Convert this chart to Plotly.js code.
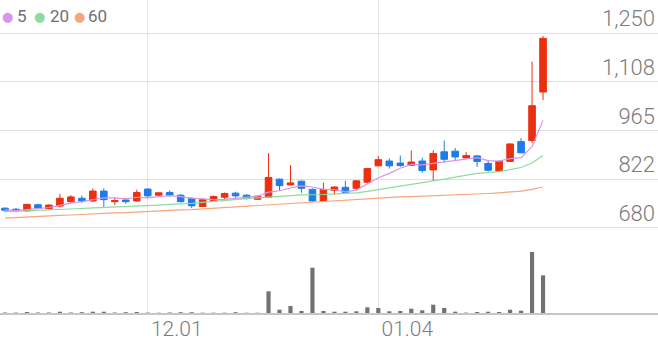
<!DOCTYPE html>
<html>
<head>
<meta charset="utf-8">
<script src="https://cdn.plot.ly/plotly-3.0.1.min.js"></script>
<style>
html,body{margin:0;padding:0;background:#fff;}
#chart{width:658px;height:342px;}
</style>
</head>
<body>
<div id="chart"></div>
<script>
// Trading days (2020.11.12 – 2021.01.25)
const dates = ['11.12','11.13','11.16','11.17','11.18','11.19','11.20','11.23','11.24','11.25',
  '11.26','11.27','11.30','12.01','12.02','12.03','12.04','12.07','12.08','12.09',
  '12.10','12.11','12.14','12.15','12.16','12.17','12.18','12.21','12.22','12.23',
  '12.24','12.28','12.29','12.30','01.04','01.05','01.06','01.07','01.08','01.11',
  '01.12','01.13','01.14','01.15','01.18','01.19','01.20','01.21','01.22','01.25'];

const openP  = [738,735,730,748,736,744,757,767,759,788, 757,762,759,794,776,784,776,767,743,759,
  770,782,776,764,770,823,806,817,793,759, 790,799,796,814,862,876,870,863,876,850,
  903,905,885,891,869,847,875,933,936,1078];
const highP  = [740,738,751,751,749,780,776,775,796,796, 770,767,792,796,784,790,779,769,768,775,
  784,786,779,775,899,825,864,819,796,813, 801,818,820,856,890,884,892,907,886,908,
  936,914,902,893,878,878,928,943,1167,1242];
const lowP   = [728,726,728,735,734,740,753,753,755,738, 747,751,757,767,772,771,755,738,741,757,
  763,768,763,762,768,789,806,783,757,757, 777,779,791,811,860,854,859,862,842,818,
  871,879,884,859,845,844,873,899,928,1055];
const closeP = [732,730,749,738,747,767,771,759,788,763, 760,757,784,774,783,776,757,745,763,772,
  781,774,767,773,828,804,812,796,759,793, 800,784,818,854,880,862,863,873,848,898,
  881,888,892,875,849,875,926,900,1038,1235];

const ma5  = [733,731,734,737,740,746,753,757,763,768, 768,765,770,768,772,775,772,767,765,763,
  764,767,771,773,785,789,797,803,800,793, 792,786,791,810,827,840,855,866,865,869,
  873,879,882,886,877,876,883,886,918,995];
const ma20 = [728,729,730,731,733,734,736,737,739,740, 741,743,744,746,747,749,750,752,755,758,
  762,765,766,768,771,773,775,777,777,778, 780,781,783,787,792,796,801,807,812,818,
  823,829,835,840,842,845,851,857,870,892];
const ma60 = [709,711,712,714,715,717,718,720,721,722, 724,725,727,728,730,731,733,734,736,738,
  740,741,744,746,747,750,752,754,756,759, 761,763,765,767,769,770,771,772,773,774,
  775,777,778,780,781,783,785,788,793,800];

const volume = [50000,40000,100000,50000,50000,130000,50000,80000,130000,130000,
  50000,80000,100000,40000,30000,50000,80000,80000,30000,30000,
  30000,80000,30000,30000,2170000,330000,700000,200000,4530000,200000,
  130000,130000,170000,570000,500000,170000,200000,430000,270000,830000,
  500000,130000,40000,100000,130000,100000,330000,230000,6100000,3770000];

const priceTickVals = [680, 822.5, 965, 1107.5, 1250];
const priceTickText = ['680', '822', '965', '1,108', '1,250'];
const dateTickVals = ['12.01', '01.04'];
const dateTickText = ['12.01', '01.04'];

const maNames = ['5', '20', '60'];
const maColors = ['#d994ec', '#8edb9e', '#f6a67c'];

const RED = '#ea300f', BLUE = '#1f7be6';

// price axis range, and a label axis whose range is offset so labels sit above gridlines
const priceRange = [656.5, 1347.5];
const labelOffset = 42.5; // ≈14.5 px in price units
const labelRange = [priceRange[0] - labelOffset, priceRange[1] - labelOffset];

const traces = [
  {type:'scatter', mode:'lines', x:dates, y:ma60, line:{color:maColors[2], width:1.2}, name:'60', showlegend:false, hoverinfo:'skip'},
  {type:'scatter', mode:'lines', x:dates, y:ma20, line:{color:maColors[1], width:1.2}, name:'20', showlegend:false, hoverinfo:'skip'},
  {type:'scatter', mode:'lines', x:dates, y:ma5,  line:{color:maColors[0], width:1.2}, name:'5',  showlegend:false, hoverinfo:'skip'},
  {type:'candlestick', x:dates, open:openP, high:highP, low:lowP, close:closeP,
    increasing:{line:{color:RED, width:1}, fillcolor:RED},
    decreasing:{line:{color:BLUE, width:1}, fillcolor:BLUE},
    whiskerwidth:0, showlegend:false, hoverinfo:'skip'},
  {type:'bar', x:dates, y:volume, yaxis:'y2', width:0.38, marker:{color:'#727272', line:{width:0}}, showlegend:false, hoverinfo:'skip'},
  {type:'scatter', mode:'none', x:[dates[0]], y:[priceTickVals[0]], yaxis:'y3', showlegend:false, hoverinfo:'skip'}
];

const W = 658, PH = 313;
const annotations = [];
const legendPos = [[7, 17], [39, 50], [79, 88]];
maNames.forEach((n, k) => {
  annotations.push({xref:'paper', yref:'paper', x:legendPos[k][0]/W, y:1 - 16/PH, xanchor:'center', yanchor:'middle',
    text:'●', showarrow:false, font:{family:'DejaVu Sans', size:13, color:maColors[k]}});
  annotations.push({xref:'paper', yref:'paper', x:(legendPos[k][1]-2)/W, y:1 - 16.5/PH, xanchor:'left', yanchor:'middle',
    text:n, showarrow:false, font:{family:'Roboto', size:17, color:'#6f6f6f'}});
});

const layout = {
  width: 658, height: 342,
  margin: {l:0, r:0, t:0, b:29, pad:0},
  paper_bgcolor:'#ffffff', plot_bgcolor:'#ffffff',
  showlegend:false,
  boxgap:0.4, boxgroupgap:0,
  xaxis: {
    type:'category', range:[-0.455, 59.47], anchor:'y2',
    rangeslider:{visible:false},
    tickvals:dateTickVals, ticktext:dateTickText,
    ticks:'', showgrid:true, gridcolor:'#e6e6e6', gridwidth:1,
    showline:true, linecolor:'#c6c6c6', linewidth:1.5,
    ticklabelshift:29, ticklabelstandoff:-4,
    tickfont:{family:'Roboto', size:21, color:'#7c7c7c', weight:300},
    fixedrange:true
  },
  yaxis: {
    domain:[0.246, 1], range:priceRange, side:'right',
    tickvals:priceTickVals, showticklabels:false, ticks:'',
    showgrid:true, gridcolor:'#dedede', gridwidth:1, zeroline:false, showline:false,
    fixedrange:true
  },
  yaxis3: {
    overlaying:'y', anchor:'x', range:labelRange, side:'right',
    tickvals:priceTickVals, ticktext:priceTickText,
    ticklabelposition:'inside', ticks:'',
    showgrid:false, zeroline:false, showline:false,
    tickfont:{family:'Roboto', size:22, color:'#7c7c7c', weight:300},
    fixedrange:true
  },
  yaxis2: {
    domain:[0, 0.246], range:[0, 7700000],
    showgrid:false, showticklabels:false, zeroline:false, showline:false, ticks:'',
    fixedrange:true
  },
  annotations: annotations,
  hovermode:false
};

Plotly.newPlot('chart', traces, layout, {displayModeBar:false, staticPlot:true});
</script>
</body>
</html>
